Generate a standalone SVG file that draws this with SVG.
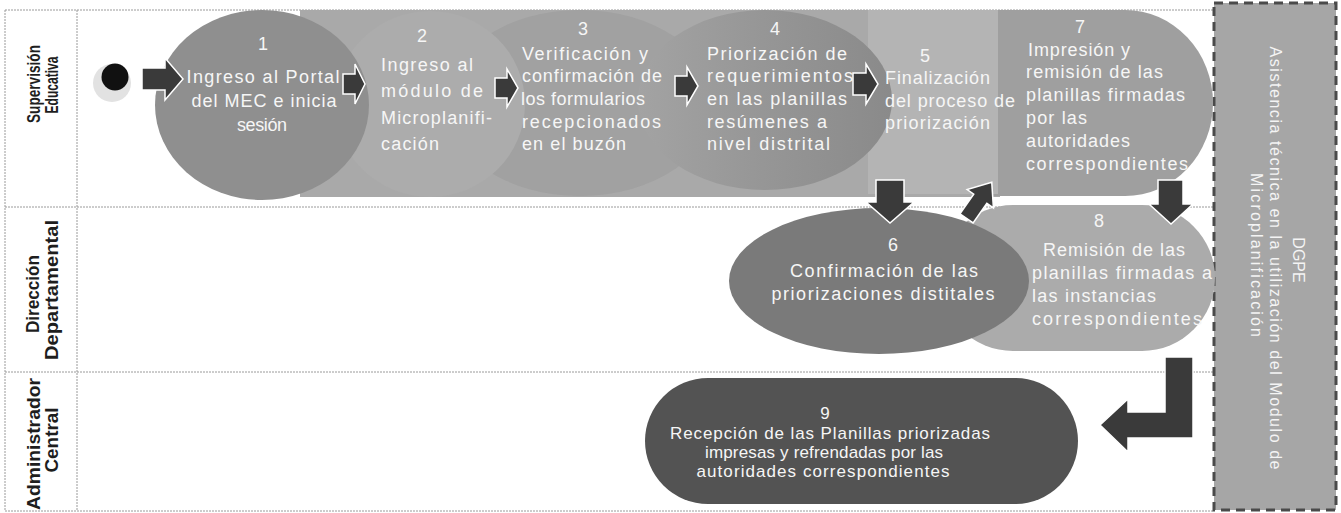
<svg xmlns="http://www.w3.org/2000/svg" width="1341" height="513" viewBox="0 0 1341 513">
<style>
.lane{stroke:#9a9a9a;stroke-width:1;stroke-dasharray:2 1;fill:none}
.hd{font-family:"Liberation Sans",Arial,sans-serif;font-weight:bold;font-size:18px;fill:#1e1e1e;text-anchor:middle}
.t{font-family:"Liberation Sans",Arial,sans-serif;font-size:18px;fill:#f6f6f6}
.m{text-anchor:middle}
.t9{font-family:"Liberation Sans",Arial,sans-serif;font-size:17px;fill:#f6f6f6;text-anchor:middle}
.bx{font-family:"Liberation Sans",Arial,sans-serif;font-size:16px;fill:#f4f4f4;text-anchor:middle}
.arr{fill:#3a3a3a;stroke:#ffffff;stroke-width:1.5;stroke-linejoin:miter}
</style>
<defs>
<linearGradient id="g4" x1="0" y1="0" x2="1" y2="0">
<stop offset="0" stop-color="#a3a3a3"/>
<stop offset="0.45" stop-color="#979797"/>
<stop offset="1" stop-color="#8a8a8a"/>
</linearGradient>
</defs>
<rect x="0" y="0" width="1341" height="513" fill="#ffffff"/>
<g id="lanes">
<line class="lane" x1="5" y1="10" x2="1214" y2="10"/>
<line class="lane" x1="5" y1="207" x2="1214" y2="207"/>
<line class="lane" x1="5" y1="372" x2="1214" y2="372"/>
<line class="lane" x1="5" y1="511" x2="1214" y2="511"/>
<line class="lane" x1="5" y1="10" x2="5" y2="511"/>
<line class="lane" x1="77" y1="10" x2="77" y2="511"/>
<text class="hd" transform="translate(40,84) rotate(-90)" textLength="78" lengthAdjust="spacingAndGlyphs">Supervisión</text>
<text class="hd" transform="translate(58,85) rotate(-90)" textLength="57" lengthAdjust="spacingAndGlyphs">Educativa</text>
<text class="hd" transform="translate(39,294) rotate(-90)" textLength="78" lengthAdjust="spacingAndGlyphs">Dirección</text>
<text class="hd" transform="translate(58,290) rotate(-90)" textLength="140" lengthAdjust="spacingAndGlyphs">Departamental</text>
<text class="hd" transform="translate(40,444) rotate(-90)" textLength="132" lengthAdjust="spacingAndGlyphs">Administrador</text>
<text class="hd" transform="translate(58,440) rotate(-90)" textLength="65" lengthAdjust="spacingAndGlyphs">Central</text>
</g>
<g id="node-dgpe">
<rect x="1214" y="3" width="122" height="507" fill="#a6a6a6" stroke="#4a4a4a" stroke-width="3" stroke-dasharray="9 6"/>
<text class="bx" transform="translate(1293,260) rotate(90)">DGPE</text>
<text class="bx" transform="translate(1270,258) rotate(90)" textLength="423" lengthAdjust="spacing">Asistencia técnica en la utilización del Modulo de</text>
<text class="bx" transform="translate(1251,255) rotate(90)" textLength="164" lengthAdjust="spacing">Microplanificación</text>
</g>
<rect id="band" x="300" y="10" width="700" height="187" fill="#a9a9a9"/>
<g id="node-7">
<path d="M985,10 H1125 A88,93 0 0 1 1213,103 A88,93 0 0 1 1125,196 H985 Q975,196 975,186 V20 Q975,10 985,10 Z" fill="#9f9f9f"/>
<text class="t m" x="1080" y="33">7</text>
<text class="t" x="1028" y="56" textLength="102" lengthAdjust="spacing">Impresión y</text>
<text class="t" x="1026" y="78" textLength="137" lengthAdjust="spacing">remisión de las</text>
<text class="t" x="1026" y="101" textLength="159" lengthAdjust="spacing">planillas firmadas</text>
<text class="t" x="1026" y="124" textLength="61" lengthAdjust="spacing">por las</text>
<text class="t" x="1026" y="147" textLength="104" lengthAdjust="spacing">autoridades</text>
<text class="t" x="1026" y="170" textLength="162" lengthAdjust="spacing">correspondientes</text>
</g>
<g id="node-5">
<rect x="868" y="10" width="130" height="184" fill="#b4b4b4"/>
</g>
<g id="node-3">
<ellipse cx="580" cy="103" rx="135" ry="93" fill="#a1a1a1"/>
</g>
<g id="node-4">
<ellipse cx="765" cy="100" rx="127" ry="90" fill="url(#g4)"/>
</g>
<g id="node-2">
<ellipse cx="430" cy="104" rx="95" ry="93" fill="#acacac"/>
</g>
<g id="node-1">
<ellipse cx="262" cy="105" rx="107" ry="95" fill="#8f8f8f"/>
</g>
<g id="labels-top">
<text class="t m" x="263" y="50">1</text>
<text class="t m" x="263" y="83" textLength="153" lengthAdjust="spacing">Ingreso al Portal</text>
<text class="t m" x="264" y="107" textLength="145" lengthAdjust="spacing">del MEC e inicia</text>
<text class="t m" x="262" y="131" textLength="50" lengthAdjust="spacing">sesión</text>
<text class="t m" x="422" y="42">2</text>
<text class="t" x="381" y="71" textLength="92" lengthAdjust="spacing">Ingreso al</text>
<text class="t" x="381" y="97" textLength="102" lengthAdjust="spacing">módulo de</text>
<text class="t" x="381" y="124" textLength="111" lengthAdjust="spacing">Microplanifi-</text>
<text class="t" x="381" y="150" textLength="58" lengthAdjust="spacing">cación</text>
<text class="t m" x="583" y="35">3</text>
<text class="t" x="522" y="60" textLength="126" lengthAdjust="spacing">Verificación y</text>
<text class="t" x="522" y="82" textLength="140" lengthAdjust="spacing">confirmación de</text>
<text class="t" x="521" y="105" textLength="124" lengthAdjust="spacing">los formularios</text>
<text class="t" x="522" y="128" textLength="139" lengthAdjust="spacing">recepcionados</text>
<text class="t" x="522" y="150" textLength="104" lengthAdjust="spacing">en el buzón</text>
<text class="t m" x="775" y="35">4</text>
<text class="t" x="707" y="60" textLength="140" lengthAdjust="spacing">Priorización de</text>
<text class="t" x="707" y="82" textLength="146" lengthAdjust="spacing">requerimientos</text>
<text class="t" x="707" y="105" textLength="140" lengthAdjust="spacing">en las planillas</text>
<text class="t" x="707" y="128" textLength="120" lengthAdjust="spacing">resúmenes a</text>
<text class="t" x="707" y="150" textLength="123" lengthAdjust="spacing">nivel distrital</text>
<text class="t m" x="925" y="62">5</text>
<text class="t" x="885" y="84" textLength="105" lengthAdjust="spacing">Finalización</text>
<text class="t" x="885" y="107" textLength="130" lengthAdjust="spacing">del proceso de</text>
<text class="t" x="885" y="129" textLength="105" lengthAdjust="spacing">priorización</text>
</g>
<g id="node-8">
<rect x="940" y="205" width="275" height="146" rx="73" fill="#ababab"/>
<text class="t m" x="1099" y="227">8</text>
<text class="t" x="1043" y="256" textLength="142" lengthAdjust="spacing">Remisión de las</text>
<text class="t" x="1032" y="279" textLength="180" lengthAdjust="spacing">planillas firmadas a</text>
<text class="t" x="1032" y="302" textLength="124" lengthAdjust="spacing">las instancias</text>
<text class="t" x="1032" y="325" textLength="170" lengthAdjust="spacing">correspondientes</text>
</g>
<g id="node-6">
<ellipse cx="879" cy="281" rx="150" ry="73" fill="#7a7a7a"/>
<text class="t m" x="893" y="251">6</text>
<text class="t m" x="884" y="277" textLength="188" lengthAdjust="spacing">Confirmación de las</text>
<text class="t m" x="883" y="300" textLength="223" lengthAdjust="spacing">priorizaciones distitales</text>
</g>
<g id="node-9">
<rect x="645" y="378" width="433" height="126" rx="63" fill="#535353"/>
<text class="t9" x="825" y="419">9</text>
<text class="t9" x="830" y="439" textLength="320" lengthAdjust="spacing">Recepción de las Planillas priorizadas</text>
<text class="t9" x="824" y="458" textLength="238" lengthAdjust="spacing">impresas y refrendadas por las</text>
<text class="t9" x="823" y="477" textLength="253" lengthAdjust="spacing">autoridades correspondientes</text>
</g>
<g id="node-start">
<circle cx="112" cy="83" r="19" fill="#e2e2e2"/>
<circle cx="115" cy="77" r="13.5" fill="#111111"/>
</g>
<g id="connectors">
<polygon class="arr" points="142,68 165,68 165,58 183,79 165,100 165,90 142,90"/>
<polygon class="arr" points="343,74 355,74 355,64 365,84 355,104 355,94 343,94"/>
<polygon class="arr" points="495,78 507,78 507,69 518,88 507,107 507,98 495,98"/>
<polygon class="arr" points="675,76 687,76 687,67 698,86 687,105 687,96 675,96"/>
<polygon class="arr" points="853,73 866,73 866,64 878,84 866,104 866,95 853,95"/>
<polygon class="arr" points="876,180 904,180 904,202 914,202 890,223 866,202 876,202"/>
<polygon class="arr" transform="translate(978,202) rotate(35)" points="0,-24 16,-4 8,-4 8,20 -8,20 -8,-4 -16,-4"/>
<polygon class="arr" points="1158,180 1183,180 1183,204 1193,204 1171,224 1149,204 1158,204"/>
<polygon class="arr" fill="#454545" points="1165,357 1193,357 1193,438 1128,438 1128,452 1100,425 1128,399 1128,412 1165,412"/>
</g>
</svg>
